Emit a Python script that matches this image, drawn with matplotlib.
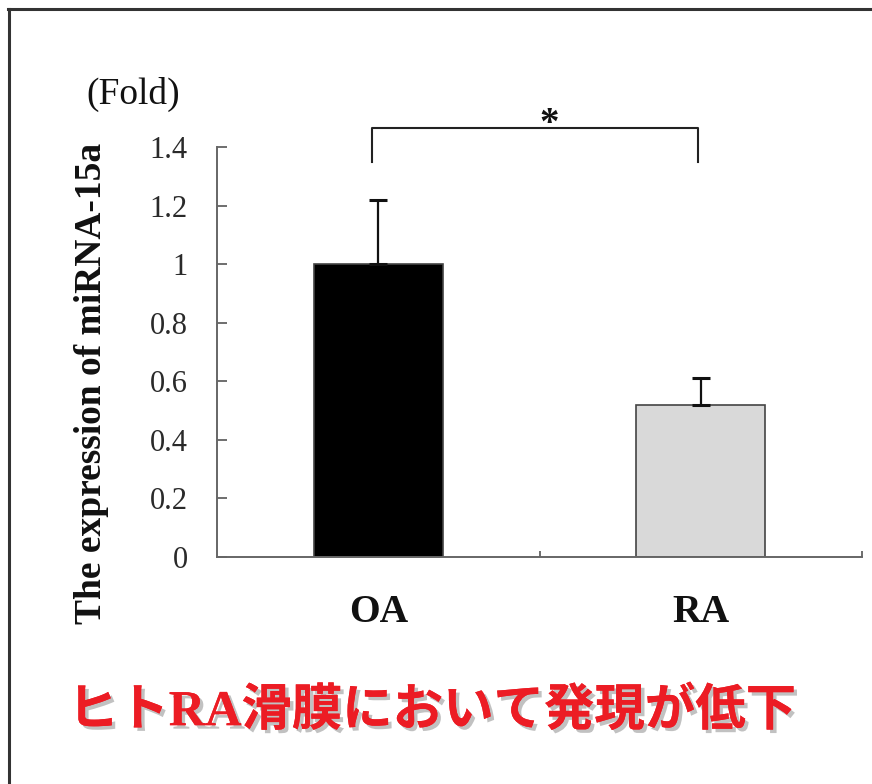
import matplotlib
matplotlib.use("Agg")
import matplotlib.pyplot as plt
import matplotlib.patheffects as pe
from matplotlib.lines import Line2D

# 発現量データ (Fold)
groups = ["OA", "RA"]
expression = [1.00, 0.52]
err_upper = [0.22, 0.09]
bar_colors = ["#000000", "#d9d9d9"]
yticks = [0, 0.2, 0.4, 0.6, 0.8, 1.0, 1.2, 1.4]
ytick_labels = ["0", "0.2", "0.4", "0.6", "0.8", "1", "1.2", "1.4"]
headline = ["ヒト", "RA", "滑膜において発現が低下"]

serif = "Liberation Serif"
jp = ["Noto Sans CJK JP", "DejaVu Sans"]

fig = plt.figure(figsize=(8.72, 7.84), dpi=100)
ax = fig.add_axes([0.2489, 0.2895, 0.7396, 0.5230])

x = range(len(groups))
ax.bar(x, expression, width=0.4, color=bar_colors, edgecolor="#444444",
       linewidth=1.2, zorder=2)
ax.errorbar(x, expression, yerr=[[0, 0], err_upper], fmt="none",
            ecolor="#111111", elinewidth=1.6, capsize=6.5, capthick=2.2, zorder=3)

ax.set_xlim(-0.5, 1.5)
ax.set_ylim(0, 1.4)
ax.set_yticks(yticks)
ax.set_yticklabels(ytick_labels, fontfamily=serif, fontsize=22, color="#2a2a2a")
ax.set_xticks([0.5, 1.5])
ax.set_xticklabels([])
ax.tick_params(axis="y", direction="in", length=7, width=1.2, color="#555555", pad=21)
ax.tick_params(axis="x", direction="in", length=4, width=1.2, color="#555555")
for s in ["top", "right"]:
    ax.spines[s].set_visible(False)
for s in ["left", "bottom"]:
    ax.spines[s].set_color("#666666")
    ax.spines[s].set_linewidth(1.4)

# 群ラベル
for i, g in enumerate(groups):
    ax.text(i, -0.19, g, ha="center", va="center", fontfamily=serif,
            fontweight="bold", fontsize=28.5, color="#111111")

ax.text(-0.194, 0.424, "The expression of miRNA-15a", transform=ax.transAxes,
        rotation=90, ha="center", va="center", fontfamily=serif,
        fontweight="bold", fontsize=27, color="#111111")
fig.text(0.153, 0.879, "(Fold)", ha="center", va="center", fontfamily=serif,
         fontsize=27, color="#111111")

# 有意差の括弧
ax.plot([-0.02, -0.02, 0.99, 0.99], [1.348, 1.464, 1.464, 1.348], color="#222222",
        lw=1.5, clip_on=False)
ax.text(0.53, 1.478, "*", ha="center", va="center", fontfamily=serif,
        fontweight="bold", fontsize=28, color="#111111")

# 見出し (RAのみ明朝体)
shadow = [pe.withSimplePatchShadow(offset=(2.5, -2.5), shadow_rgbFace="#999999",
                                   alpha=0.6), pe.Normal()]
fig.canvas.draw()
renderer = fig.canvas.get_renderer()
xpos = 68 / 872
for part in headline:
    fam = [serif] if part == "RA" else jp
    t = fig.text(xpos, 0.075, part, ha="left", va="baseline", fontfamily=fam,
                 fontweight="bold", fontsize=36.3, color="#ec1c24",
                 path_effects=shadow)
    xpos += t.get_window_extent(renderer).width / (fig.get_figwidth() * fig.dpi)

# 外枠
fig.add_artist(Line2D([0.0092, 1.0], [0.989, 0.989], color="#333333", lw=2.2))
fig.add_artist(Line2D([0.0098, 0.0098], [0.0, 0.989], color="#333333", lw=2.2))

fig.savefig("out.png", dpi=100)
